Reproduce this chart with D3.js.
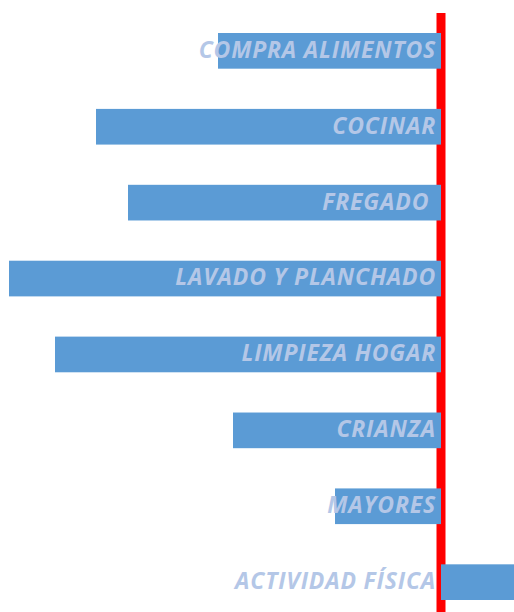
<!DOCTYPE html>
<html>
<head>
<meta charset="utf-8">
<script src="https://cdn.jsdelivr.net/npm/d3@7"></script>
<style>
  html, body { margin: 0; padding: 0; background: #ffffff; }
  svg { display: block; }
</style>
</head>
<body>
<svg id="chart" width="514" height="612"></svg>
<script>
// Household task categories and their gap values (negative = left of the zero line)
const categories = [
  "COMPRA ALIMENTOS",
  "COCINAR",
  "FREGADO ",
  "LAVADO Y PLANCHADO",
  "LIMPIEZA HOGAR",
  "CRIANZA",
  "MAYORES",
  "ACTIVIDAD FÍSICA"
];
const values = [-22.3, -34.5, -31.3, -43.2, -38.6, -20.8, -10.6, 7.3];

const width = 514, height = 612;
const svg = d3.select("#chart");

const x = d3.scaleLinear()
  .domain([-44.1, 7.3])
  .range([0, width]);

const y = d3.scaleBand()
  .domain(categories)
  .range([33, 600])
  .paddingInner(0.53)
  .paddingOuter(0);

// Zero reference line
svg.append("line")
  .attr("x1", x(0)).attr("x2", x(0))
  .attr("y1", 13).attr("y2", height)
  .attr("stroke", "#ff0000")
  .attr("stroke-width", 9);

// Bars
svg.append("g")
  .selectAll("rect")
  .data(categories)
  .join("rect")
  .attr("x", (d, i) => Math.min(x(0), x(values[i])))
  .attr("y", d => y(d))
  .attr("width", (d, i) => Math.abs(x(values[i]) - x(0)))
  .attr("height", y.bandwidth())
  .attr("fill", "#5b9bd5");

// Category labels, right-aligned against the zero line
svg.append("g")
  .selectAll("text")
  .data(categories)
  .join("text")
  .attr("x", x(0) - 5)
  .attr("y", d => y(d) + y.bandwidth() / 2)
  .attr("dy", "0.3em")
  .attr("text-anchor", "end")
  .attr("xml:space", "preserve")
  .style("white-space", "pre")
  .attr("font-family", "'Open Sans', sans-serif")
  .attr("font-weight", "bold")
  .attr("font-style", "italic")
  .attr("font-size", 23)
  .attr("letter-spacing", 0.8)
  .attr("fill", "#b4c7e7")
  .text(d => d);
</script>
</body>
</html>
